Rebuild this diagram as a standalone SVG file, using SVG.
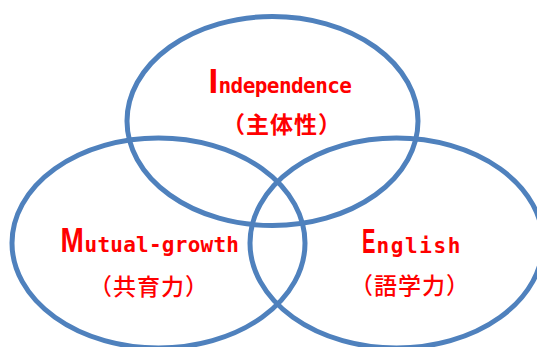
<svg xmlns="http://www.w3.org/2000/svg" width="537" height="347" viewBox="0 0 537 347">
<style>
.ring{fill:none;stroke:#4F81BD;stroke-width:5}
.cap{font-family:"Liberation Sans",Arial,sans-serif;font-weight:bold;font-size:35px;fill:#FF0000}
.low{font-family:"DejaVu Sans Mono","Liberation Mono",monospace;font-weight:bold;font-size:21px;fill:#FF0000}
.jp{font-family:"Noto Sans CJK JP","Noto Sans CJK SC",sans-serif;font-size:23px;fill:#FF0000;text-anchor:middle;letter-spacing:1px}
</style>
<rect width="537" height="347" fill="#FFFFFF"/>
<g id="connectors"></g>
<g id="independence">
<ellipse class="ring" cx="272.5" cy="121" rx="145.5" ry="104.5"/>
<text class="cap" x="208.6" y="92.7">I</text>
<text class="low" x="218.5" y="92.7" textLength="133.5" lengthAdjust="spacing">ndependence</text>
<text class="jp" x="282" y="133" font-weight="bold">（主体性）</text>
</g>
<g id="mutual-growth">
<ellipse class="ring" cx="158.5" cy="243" rx="146.5" ry="105"/>
<text class="cap" transform="translate(60.5,251.5) scale(0.8,1)">M</text>
<text class="low" x="84.5" y="251.5" textLength="154.5" lengthAdjust="spacing">utual-growth</text>
<text class="jp" x="149" y="294.5" font-weight="500">（共育力）</text>
</g>
<g id="english">
<ellipse class="ring" cx="396.5" cy="243" rx="146.5" ry="105"/>
<text class="cap" transform="translate(362,252.5) scale(0.575,1)">E</text>
<text class="low" x="376.5" y="252.5" textLength="84" lengthAdjust="spacing">nglish</text>
<text class="jp" x="410" y="293.5" font-weight="500">（語学力）</text>
</g>
</svg>
